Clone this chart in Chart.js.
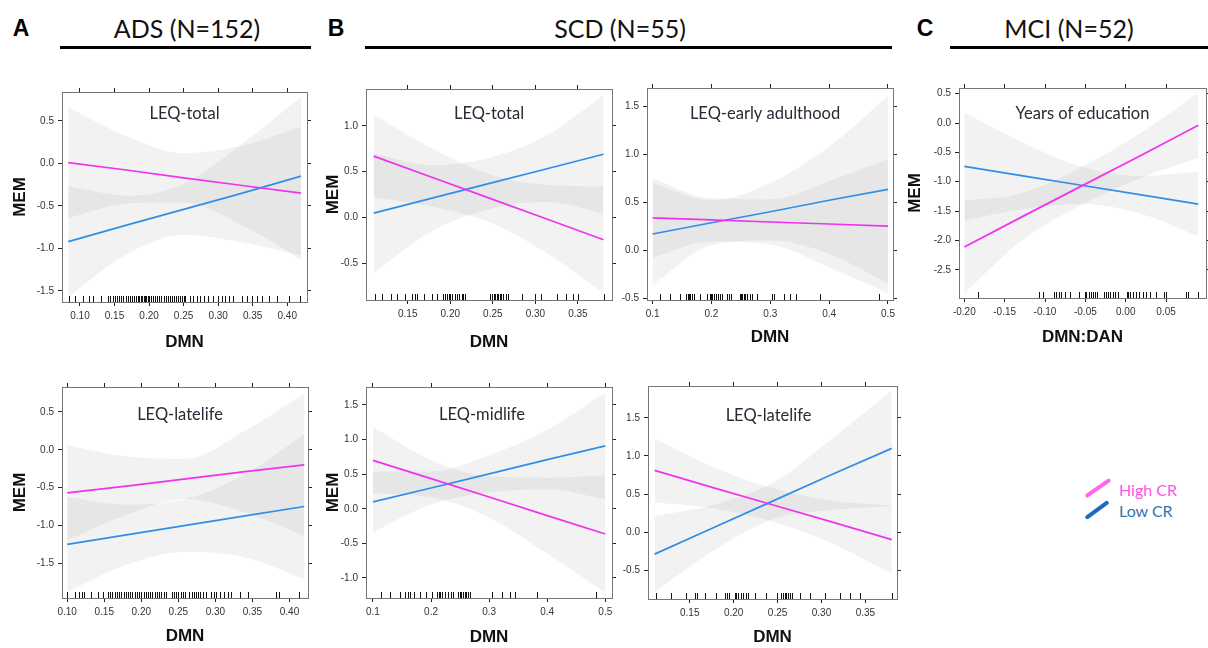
<!DOCTYPE html>
<html>
<head>
<meta charset="utf-8">
<script src="https://cdn.jsdelivr.net/npm/chart.js@4.4.1/dist/chart.umd.min.js"></script>
<style>
  html, body { margin: 0; padding: 0; background: #fff; overflow: hidden; }
  body { width: 1208px; height: 648px; position: relative; font-family: Lato, sans-serif; }
  canvas { position: absolute; }
  .letter { position: absolute; font: bold 23px "Liberation Sans", Arial, sans-serif; transform: translate(-50%, -50%); color: #000; }
  .group { position: absolute; font-size: 25px; transform: translate(-50%, -50%); color: #111; white-space: nowrap; }
  .rule { position: absolute; height: 3px; background: #000; }
  .key { position: absolute; height: 4px; border-radius: 2px; }
  .keytxt { position: absolute; font-size: 16px; transform: translateY(-50%); white-space: nowrap; }
</style>
</head>
<body>

<div class="letter" style="left:21px; top:28px">A</div>
<div class="group" style="left:187px; top:28px">ADS (N=152)</div>
<div class="rule" style="left:60px; top:46px; width:251px"></div>

<div class="letter" style="left:336px; top:28px">B</div>
<div class="group" style="left:620px; top:28px">SCD (N=55)</div>
<div class="rule" style="left:365px; top:46px; width:527px"></div>

<div class="letter" style="left:925px; top:28px">C</div>
<div class="group" style="left:1069px; top:28px">MCI (N=52)</div>
<div class="rule" style="left:950px; top:46px; width:258px"></div>

<div class="key" style="left:1083px; top:486px; width:30px; background:#ff66ee; transform:rotate(-35deg)"></div>
<div class="keytxt" style="left:1119px; top:489px; color:#ff55e6">High CR</div>
<div class="key" style="left:1083px; top:508px; width:28px; background:#1a6cc0; transform:rotate(-36deg)"></div>
<div class="keytxt" style="left:1119px; top:510px; color:#2e75b6">Low CR</div>

<script>
// ---- ADS, LEQ-total ----
const a1X      = [0.083, 0.17, 0.25, 0.335, 0.42];
const a1High   = [0.01, -0.08, -0.17, -0.26, -0.35];
const a1HighUp = [0.66, 0.31, 0.12, 0.21, 0.43];
const a1HighLo = [-0.64, -0.47, -0.46, -0.73, -1.13];
const a1Low    = [-0.92, -0.72, -0.54, -0.35, -0.15];
const a1LowUp  = [-0.27, -0.38, -0.24, 0.23, 0.78];
const a1LowLo  = [-1.57, -1.06, -0.84, -0.93, -1.08];
const a1Rug = [0.0845, 0.093, 0.105, 0.1135, 0.119, 0.131, 0.141, 0.143, 0.148, 0.151, 0.154, 0.157,
  0.160, 0.163, 0.166, 0.169, 0.172, 0.175, 0.178, 0.181, 0.184, 0.186, 0.188, 0.190, 0.192, 0.194,
  0.196, 0.198, 0.200, 0.203, 0.206, 0.209, 0.212, 0.215, 0.218, 0.221, 0.224, 0.227, 0.230, 0.233,
  0.236, 0.239, 0.242, 0.245, 0.248, 0.250, 0.252, 0.259, 0.264, 0.269, 0.274, 0.280, 0.286, 0.293,
  0.300, 0.305, 0.310, 0.315, 0.322, 0.334, 0.342, 0.349, 0.356, 0.363, 0.373, 0.385, 0.402, 0.419];

// ---- ADS, LEQ-latelife ----
const a2X      = [0.10, 0.18, 0.26, 0.34, 0.42];
const a2High   = [-0.57, -0.48, -0.385, -0.29, -0.20];
const a2HighUp = [0.06, -0.09, -0.12, 0.25, 0.74];
const a2HighLo = [-1.20, -0.86, -0.65, -0.83, -1.14];
const a2Low    = [-1.25, -1.125, -1.0, -0.875, -0.75];
const a2LowUp  = [-0.62, -0.725, -0.65, -0.325, 0.21];
const a2LowLo  = [-1.88, -1.525, -1.35, -1.425, -1.71];
const a2Rug = [0.100, 0.110, 0.116, 0.120, 0.123, 0.132, 0.141, 0.148, 0.155, 0.158, 0.161, 0.164,
  0.167, 0.170, 0.173, 0.176, 0.179, 0.182, 0.185, 0.188, 0.191, 0.194, 0.197, 0.200, 0.203, 0.206,
  0.209, 0.212, 0.215, 0.218, 0.221, 0.224, 0.227, 0.230, 0.233, 0.241, 0.244, 0.247, 0.250, 0.253,
  0.256, 0.259, 0.265, 0.268, 0.271, 0.274, 0.276, 0.279, 0.283, 0.288, 0.294, 0.298, 0.301, 0.306,
  0.312, 0.317, 0.321, 0.333, 0.344, 0.382, 0.386, 0.413];

// ---- SCD, LEQ-total ----
const b1X      = [0.11, 0.1775, 0.245, 0.3125, 0.38];
const b1High   = [0.67, 0.4425, 0.215, -0.0125, -0.24];
const b1HighUp = [1.12, 0.76, 0.475, 0.3575, 0.34];
const b1HighLo = [0.22, 0.1225, -0.045, -0.3825, -0.82];
const b1Low    = [0.05, 0.21, 0.37, 0.53, 0.69];
const b1LowUp  = [0.70, 0.57, 0.65, 0.89, 1.335];
const b1LowLo  = [-0.60, -0.15, 0.09, 0.17, 0.045];
const b1Rug = [0.111, 0.120, 0.130, 0.1375, 0.147, 0.155, 0.158, 0.161, 0.169, 0.178, 0.184, 0.192,
  0.194, 0.196, 0.198, 0.200, 0.202, 0.206, 0.208, 0.210, 0.2135, 0.2155, 0.217, 0.247, 0.249, 0.251,
  0.2525, 0.2545, 0.2565, 0.258, 0.260, 0.262, 0.266, 0.268, 0.284, 0.299, 0.307, 0.325, 0.336,
  0.344, 0.350, 0.381];

// ---- SCD, LEQ-early adulthood ----
const b2X      = [0.1, 0.2, 0.3, 0.4, 0.5];
const b2High   = [0.336, 0.315, 0.293, 0.272, 0.25];
const b2HighUp = [0.75, 0.54, 0.53, 0.72, 0.95];
const b2HighLo = [-0.08, 0.09, 0.06, -0.18, -0.45];
const b2Low    = [0.168, 0.285, 0.40, 0.52, 0.634];
const b2LowUp  = [0.70, 0.52, 0.70, 1.08, 1.61];
const b2LowLo  = [-0.36, 0.05, 0.10, -0.04, -0.35];
const b2Rug = [0.112, 0.130, 0.147, 0.157, 0.1595, 0.162, 0.164, 0.167, 0.170, 0.181, 0.192, 0.197,
  0.199, 0.2015, 0.204, 0.207, 0.2105, 0.214, 0.218, 0.226, 0.229, 0.233, 0.248, 0.250, 0.2525,
  0.255, 0.257, 0.260, 0.265, 0.269, 0.277, 0.303, 0.306, 0.323, 0.334, 0.343, 0.384, 0.484];

// ---- SCD, LEQ-midlife ----
const b3X      = [0.1, 0.2, 0.3, 0.4, 0.5];
const b3High   = [0.70, 0.435, 0.17, -0.10, -0.365];
const b3HighUp = [1.18, 0.705, 0.47, 0.45, 0.485];
const b3HighLo = [0.22, 0.165, -0.13, -0.65, -1.215];
const b3Low    = [0.10, 0.30, 0.505, 0.71, 0.91];
const b3LowUp  = [0.54, 0.54, 0.775, 1.14, 1.68];
const b3LowLo  = [-0.34, 0.06, 0.235, 0.28, 0.14];
const b3Rug = [0.113, 0.130, 0.147, 0.156, 0.160, 0.164, 0.170, 0.181, 0.192, 0.2015, 0.210, 0.213,
  0.216, 0.219, 0.2245, 0.230, 0.234, 0.238, 0.246, 0.249, 0.251, 0.255, 0.258, 0.261, 0.2635,
  0.2675, 0.305, 0.322, 0.336, 0.344, 0.382, 0.484];

// ---- SCD, LEQ-latelife ----
const b4X      = [0.11, 0.1775, 0.245, 0.3125, 0.38];
const b4High   = [0.81, 0.58, 0.355, 0.13, -0.10];
const b4HighUp = [1.23, 0.85, 0.575, 0.41, 0.35];
const b4HighLo = [0.39, 0.31, 0.135, -0.15, -0.55];
const b4Low    = [-0.29, 0.06, 0.41, 0.76, 1.10];
const b4LowUp  = [0.21, 0.36, 0.65, 1.23, 1.86];
const b4LowLo  = [-0.79, -0.24, 0.17, 0.29, 0.34];
const b4Rug = [0.112, 0.129, 0.146, 0.156, 0.158, 0.167, 0.180, 0.190, 0.1925, 0.195, 0.201, 0.203,
  0.205, 0.208, 0.211, 0.2145, 0.216, 0.224, 0.237, 0.249, 0.254, 0.256, 0.258, 0.260, 0.262, 0.264,
  0.266, 0.275, 0.287, 0.304, 0.321, 0.332, 0.344, 0.380];

// ---- MCI, Years of education ----
const cX      = [-0.20, -0.1275, -0.055, 0.0175, 0.09];
const cHigh   = [-2.11, -1.59, -1.075, -0.56, -0.04];
const cHighUp = [-1.32, -1.19, -0.755, -0.18, 0.51];
const cHighLo = [-2.90, -1.99, -1.395, -0.94, -0.59];
const cLow    = [-0.74, -0.90, -1.06, -1.22, -1.38];
const cLowUp  = [0.18, -0.33, -0.74, -0.90, -0.83];
const cLowLo  = [-1.66, -1.47, -1.38, -1.54, -1.93];
const cRug = [-0.183, -0.108, -0.102, -0.089, -0.086, -0.083, -0.080, -0.075, -0.069, -0.058, -0.051,
  -0.049, -0.045, -0.043, -0.040, -0.038, -0.036, -0.027, -0.025, -0.024, -0.022, -0.020, -0.019,
  -0.016, -0.013, -0.009, 0.001, 0.003, 0.005, 0.009, 0.013, 0.017, 0.021, 0.025, 0.030, 0.038,
  0.048, 0.050, 0.075, 0.077, 0.09];

// tick values
const ticksAdsX = [0.10, 0.15, 0.20, 0.25, 0.30, 0.35, 0.40];
const ticksAdsY = [-1.5, -1.0, -0.5, 0.0, 0.5];
const ticksScdX1 = [0.15, 0.20, 0.25, 0.30, 0.35];
const ticksScdX2 = [0.1, 0.2, 0.3, 0.4, 0.5];
const ticksB1Y = [-0.5, 0.0, 0.5, 1.0];
const ticksB2Y = [-0.5, 0.0, 0.5, 1.0, 1.5];
const ticksB3Y = [-1.0, -0.5, 0.0, 0.5, 1.0, 1.5];
const ticksMciX = [-0.20, -0.15, -0.10, -0.05, 0.00, 0.05];
const ticksMciY = [-2.5, -2.0, -1.5, -1.0, -0.5, 0.0, 0.5];

const HIGH = '#f032ef';
const LOW = '#2f8ee6';
const BAND = 'rgba(0,0,0,0.05)';

Chart.defaults.font.family = '"Liberation Sans", Arial, sans-serif';

// rug marks along the bottom + panel caption
const panelExtras = {
    id: 'panelExtras',
    afterDatasetsDraw(chart, args, opts) {
        const ctx = chart.ctx;
        const area = chart.chartArea;
        const xs = chart.scales.x;
        ctx.save();
        ctx.strokeStyle = '#111';
        ctx.lineWidth = 1;
        ctx.beginPath();
        opts.rug.forEach(v => {
            const px = Math.round(xs.getPixelForValue(v)) + 0.5;
            ctx.moveTo(px, area.bottom);
            ctx.lineTo(px, area.bottom - 6);
        });
        ctx.stroke();

        ctx.fillStyle = '#2a2a36';
        ctx.font = '16.5px Lato';
        ctx.textAlign = 'center';
        ctx.textBaseline = 'middle';
        ctx.fillText(opts.label, (area.left + area.right) / 2 + (opts.labelDx || 0), area.top + opts.labelY);
        ctx.restore();
    }
};

function pts(xs, ys) {
    return xs.map((x, i) => ({ x: x, y: ys[i] }));
}

function makePanel(p) {
    const [l, t, r, b] = p.plot;
    const mt = 8, mr = 8;
    const canvas = document.createElement('canvas');
    canvas.width = (r - l) + p.ml + mr;
    canvas.height = (b - t) + mt + p.mb;
    canvas.style.left = (l - p.ml) + 'px';
    canvas.style.top = (t - mt) + 'px';
    document.body.appendChild(canvas);

    const lineStyle = { pointRadius: 0, borderWidth: 1.7, tension: 0, fill: false };
    const bandStyle = { pointRadius: 0, borderWidth: 0, borderColor: 'rgba(0,0,0,0)', cubicInterpolationMode: 'monotone' };
    const setTicks = vals => s => { s.ticks = vals.map(v => ({ value: v })); };
    const tickFont = { size: 10 };
    const grid = { drawOnChartArea: false, tickLength: 4, color: '#222' };
    const border = { color: '#777' };

    new Chart(canvas, {
        type: 'line',
        data: {
            datasets: [
                { ...lineStyle, data: pts(p.x, p.high), borderColor: HIGH },
                { ...lineStyle, data: pts(p.x, p.low), borderColor: LOW },
                { ...bandStyle, data: pts(p.x, p.highLo), fill: false },
                { ...bandStyle, data: pts(p.x, p.highUp), fill: 2, backgroundColor: BAND },
                { ...bandStyle, data: pts(p.x, p.lowLo), fill: false },
                { ...bandStyle, data: pts(p.x, p.lowUp), fill: 4, backgroundColor: BAND }
            ]
        },
        options: {
            responsive: false,
            animation: false,
            devicePixelRatio: 1,
            layout: { padding: 0 },
            plugins: {
                legend: { display: false },
                tooltip: { enabled: false },
                panelExtras: { rug: p.rug, label: p.label, labelY: p.labelY, labelDx: p.labelDx }
            },
            scales: {
                x: {
                    type: 'linear', position: 'bottom', min: p.xMin, max: p.xMax,
                    afterBuildTicks: setTicks(p.xTicks),
                    afterFit: s => { s.height = p.mb; },
                    ticks: { callback: v => v.toFixed(p.xDec), font: tickFont, color: '#333', padding: 4, maxRotation: 0, autoSkip: false },
                    grid: grid, border: border,
                    title: { display: true, text: p.xTitle, color: '#111', font: { size: 17, weight: 'bold' }, padding: { top: 0, bottom: p.xPad } }
                },
                x2: {
                    type: 'linear', position: 'top', min: p.xMin, max: p.xMax,
                    afterBuildTicks: setTicks(p.xTicks),
                    afterFit: s => { s.height = mt; },
                    ticks: { display: false }, grid: grid, border: border
                },
                y: {
                    type: 'linear', position: 'left', min: p.yMin, max: p.yMax,
                    afterBuildTicks: setTicks(p.yTicks),
                    afterFit: s => { s.width = p.ml; },
                    ticks: { callback: v => v.toFixed(1), font: tickFont, color: '#333', padding: 4, autoSkip: false },
                    grid: grid, border: border,
                    title: { display: !!p.yTitle, text: p.yTitle || '', color: '#111', font: { size: 17, weight: 'bold' }, padding: { top: p.yPad || 0, bottom: 0 } }
                },
                y2: {
                    type: 'linear', position: 'right', min: p.yMin, max: p.yMax,
                    afterBuildTicks: setTicks(p.yTicks),
                    afterFit: s => { s.width = mr; },
                    ticks: { display: false }, grid: grid, border: border
                }
            }
        },
        plugins: [panelExtras]
    });
}

function drawAll() {
    makePanel({
        plot: [62, 90, 307, 302], ml: 62, mb: 55, yTitle: 'MEM', yPad: 10, xTitle: 'DMN', xPad: 4,
        xMin: 0.074, xMax: 0.4286, yMin: -1.63, yMax: 0.84, xTicks: ticksAdsX, xDec: 2, yTicks: ticksAdsY,
        x: a1X, high: a1High, highUp: a1HighUp, highLo: a1HighLo, low: a1Low, lowUp: a1LowUp, lowLo: a1LowLo,
        rug: a1Rug, label: 'LEQ-total', labelY: 22
    });
    makePanel({
        plot: [62, 385, 308, 598], ml: 62, mb: 50, yTitle: 'MEM', yPad: 10, xTitle: 'DMN', xPad: 1,
        xMin: 0.093, xMax: 0.425, yMin: -1.96, yMax: 0.83, xTicks: ticksAdsX, xDec: 2, yTicks: ticksAdsY,
        x: a2X, high: a2High, highUp: a2HighUp, highLo: a2HighLo, low: a2Low, lowUp: a2LowUp, lowLo: a2LowLo,
        rug: a2Rug, label: 'LEQ-latelife', labelY: 28, labelDx: -5
    });
    makePanel({
        plot: [366, 87, 612, 300], ml: 50, mb: 55, yTitle: 'MEM', yPad: 7, xTitle: 'DMN', xPad: 2,
        xMin: 0.101, xMax: 0.39, yMin: -0.896, yMax: 1.40, xTicks: ticksScdX1, xDec: 2, yTicks: ticksB1Y,
        x: b1X, high: b1High, highUp: b1HighUp, highLo: b1HighLo, low: b1Low, lowUp: b1LowUp, lowLo: b1LowLo,
        rug: b1Rug, label: 'LEQ-total', labelY: 25
    });
    makePanel({
        plot: [647, 86, 893, 300], ml: 35, mb: 55, xTitle: 'DMN', xPad: 7,
        xMin: 0.0905, xMax: 0.5085, yMin: -0.52, yMax: 1.69, xTicks: ticksScdX2, xDec: 1, yTicks: ticksB2Y,
        x: b2X, high: b2High, highUp: b2HighUp, highLo: b2HighLo, low: b2Low, lowUp: b2LowUp, lowLo: b2LowLo,
        rug: b2Rug, label: 'LEQ-early adulthood', labelY: 26, labelDx: -5
    });
    makePanel({
        plot: [366, 385, 612, 598], ml: 50, mb: 50, yTitle: 'MEM', yPad: 7, xTitle: 'DMN', xPad: 0,
        xMin: 0.088, xMax: 0.5115, yMin: -1.29, yMax: 1.76, xTicks: ticksScdX2, xDec: 1, yTicks: ticksB3Y,
        x: b3X, high: b3High, highUp: b3HighUp, highLo: b3HighLo, low: b3Low, lowUp: b3LowUp, lowLo: b3LowLo,
        rug: b3Rug, label: 'LEQ-midlife', labelY: 28, labelDx: -7
    });
    makePanel({
        plot: [648, 384, 897, 599], ml: 35, mb: 49, xTitle: 'DMN', xPad: 0,
        xMin: 0.1025, xMax: 0.386, yMin: -0.88, yMax: 1.92, xTicks: ticksScdX1, xDec: 2, yTicks: ticksB2Y,
        x: b4X, high: b4High, highUp: b4HighUp, highLo: b4HighLo, low: b4Low, lowUp: b4LowUp, lowLo: b4LowLo,
        rug: b4Rug, label: 'LEQ-latelife', labelY: 30, labelDx: -4
    });
    makePanel({
        plot: [959, 86, 1206, 298], ml: 60, mb: 55, yTitle: 'MEM', yPad: 6, xTitle: 'DMN:DAN', xPad: 5,
        xMin: -0.2066, xMax: 0.0995, yMin: -2.98, yMax: 0.596, xTicks: ticksMciX, xDec: 2, yTicks: ticksMciY,
        x: cX, high: cHigh, highUp: cHighUp, highLo: cHighLo, low: cLow, lowUp: cLowUp, lowLo: cLowLo,
        rug: cRug, label: 'Years of education', labelY: 26
    });
}

Promise.all([
    document.fonts.load('16.5px Lato'),
    document.fonts.load('bold 17px "Liberation Sans"')
]).then(drawAll, drawAll);
</script>
</body>
</html>
